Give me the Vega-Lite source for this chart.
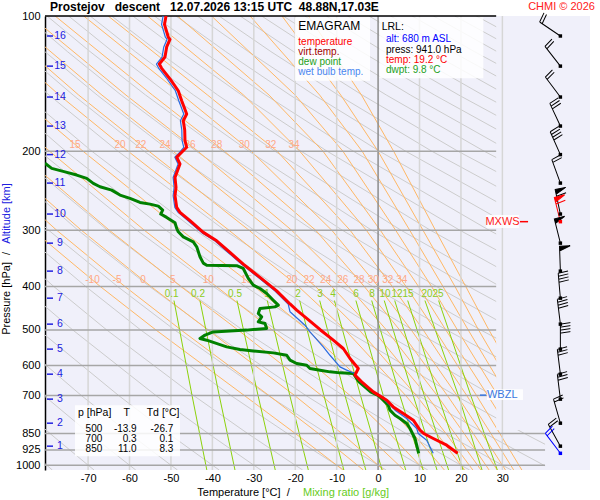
{
  "$schema": "https://vega.github.io/schema/vega-lite/v6.json",
  "width": 545,
  "height": 454,
  "autosize": "none",
  "padding": {"left": 45, "top": 16, "right": 10, "bottom": 30},
  "background": "white",
  "config": {"view": {"fill": "#f0f0fa", "stroke": null}, "font": "Liberation Sans"},
  "datasets": {
    "dry": [
      {"g":-80,"p":1025,"T":-78.63},{"g":-80,"p":1000,"T":-80},{"g":-80,"p":850,"T":-88.8},
      {"g":-70,"p":1025,"T":-68.56},{"g":-70,"p":1000,"T":-70},{"g":-70,"p":850,"T":-79.2},{"g":-70,"p":700,"T":-89.7},
      {"g":-60,"p":1025,"T":-58.49},{"g":-60,"p":1000,"T":-60},{"g":-60,"p":850,"T":-69.7},{"g":-60,"p":700,"T":-80.65},{"g":-60,"p":500,"T":-98.3},
      {"g":-50,"p":1025,"T":-48.42},{"g":-50,"p":1000,"T":-50},{"g":-50,"p":850,"T":-60.1},{"g":-50,"p":700,"T":-71.6},{"g":-50,"p":500,"T":-90.1},
      {"g":-40,"p":1025,"T":-38.35},{"g":-40,"p":1000,"T":-40},{"g":-40,"p":850,"T":-50.6},{"g":-40,"p":700,"T":-62.6},{"g":-40,"p":500,"T":-81.9},{"g":-40,"p":400,"T":-93.7},
      {"g":-30,"p":1025,"T":-28.28},{"g":-30,"p":1000,"T":-30},{"g":-30,"p":850,"T":-41.0},{"g":-30,"p":700,"T":-53.6},{"g":-30,"p":500,"T":-73.7},{"g":-30,"p":400,"T":-86.0},
      {"g":-20,"p":1025,"T":-18.21},{"g":-20,"p":1000,"T":-20},{"g":-20,"p":850,"T":-31.5},{"g":-20,"p":700,"T":-44.5},{"g":-20,"p":500,"T":-65.5},{"g":-20,"p":400,"T":-78.3},{"g":-20,"p":300,"T":-93.7},
      {"g":-10,"p":1025,"T":-8.14},{"g":-10,"p":1000,"T":-10},{"g":-10,"p":850,"T":-21.9},{"g":-10,"p":700,"T":-35.5},{"g":-10,"p":500,"T":-57.3},{"g":-10,"p":400,"T":-70.6},{"g":-10,"p":300,"T":-86.6},
      {"g":0,"p":1025,"T":1.93},{"g":0,"p":1000,"T":0},{"g":0,"p":850,"T":-12.4},{"g":0,"p":700,"T":-26.5},{"g":0,"p":500,"T":-49.1},{"g":0,"p":400,"T":-62.9},{"g":0,"p":300,"T":-79.5},{"g":0,"p":200,"T":-100.7},
      {"g":10,"p":1025,"T":12.0},{"g":10,"p":1000,"T":10},{"g":10,"p":850,"T":-2.8},{"g":10,"p":700,"T":-17.4},{"g":10,"p":500,"T":-40.9},{"g":10,"p":400,"T":-55.2},{"g":10,"p":300,"T":-72.4},{"g":10,"p":200,"T":-94.4},
      {"g":20,"p":1025,"T":22.08},{"g":20,"p":1000,"T":20},{"g":20,"p":850,"T":6.7},{"g":20,"p":700,"T":-8.4},{"g":20,"p":500,"T":-32.7},{"g":20,"p":400,"T":-47.5},{"g":20,"p":300,"T":-65.3},{"g":20,"p":200,"T":-88.1},
      {"g":30,"p":1025,"T":32.15},{"g":30,"p":1000,"T":30},{"g":30,"p":850,"T":16.25},{"g":30,"p":700,"T":0.63},{"g":30,"p":500,"T":-24.5},{"g":30,"p":400,"T":-39.8},{"g":30,"p":300,"T":-58.2},{"g":30,"p":200,"T":-81.75},{"g":30,"p":150,"T":-96.9},
      {"g":40,"p":1025,"T":42.22},{"g":40,"p":1000,"T":40},{"g":40,"p":850,"T":25.8},{"g":40,"p":700,"T":9.66},{"g":40,"p":500,"T":-16.3},{"g":40,"p":400,"T":-32.1},{"g":40,"p":300,"T":-51.15},{"g":40,"p":200,"T":-75.4},{"g":40,"p":150,"T":-91.0},
      {"g":50,"p":1000,"T":50},{"g":50,"p":850,"T":35.3},{"g":50,"p":700,"T":18.7},{"g":50,"p":500,"T":-8.06},{"g":50,"p":400,"T":-24.4},{"g":50,"p":300,"T":-44.05},{"g":50,"p":200,"T":-69.1},{"g":50,"p":150,"T":-85.2},
      {"g":60,"p":1000,"T":60},{"g":60,"p":850,"T":44.9},{"g":60,"p":700,"T":27.7},{"g":60,"p":500,"T":0.15},{"g":60,"p":400,"T":-16.7},{"g":60,"p":300,"T":-36.96},{"g":60,"p":200,"T":-62.8},{"g":60,"p":150,"T":-79.4},{"g":60,"p":120,"T":-91.4},
      {"g":70,"p":850,"T":54.4},{"g":70,"p":700,"T":36.75},{"g":70,"p":500,"T":8.35},{"g":70,"p":400,"T":-9.03},{"g":70,"p":300,"T":-29.9},{"g":70,"p":200,"T":-56.5},{"g":70,"p":150,"T":-73.6},{"g":70,"p":120,"T":-85.9},{"g":70,"p":100,"T":-95.4},
      {"g":80,"p":850,"T":64.0},{"g":80,"p":700,"T":45.8},{"g":80,"p":500,"T":16.55},{"g":80,"p":400,"T":-1.33},{"g":80,"p":300,"T":-22.8},{"g":80,"p":200,"T":-50.2},{"g":80,"p":150,"T":-67.8},{"g":80,"p":120,"T":-80.45},{"g":80,"p":100,"T":-90.2},
      {"g":90,"p":700,"T":54.8},{"g":90,"p":500,"T":24.76},{"g":90,"p":400,"T":6.36},{"g":90,"p":300,"T":-15.7},{"g":90,"p":200,"T":-43.9},{"g":90,"p":150,"T":-62.0},{"g":90,"p":120,"T":-74.99},{"g":90,"p":100,"T":-85.06},
      {"g":100,"p":700,"T":63.8},{"g":100,"p":500,"T":32.96},{"g":100,"p":400,"T":14.06},{"g":100,"p":300,"T":-8.6},{"g":100,"p":200,"T":-37.55},{"g":100,"p":150,"T":-56.1},{"g":100,"p":120,"T":-69.53},{"g":100,"p":100,"T":-79.9},
      {"g":110,"p":500,"T":41.2},{"g":110,"p":400,"T":21.8},{"g":110,"p":300,"T":-1.5},{"g":110,"p":200,"T":-31.2},{"g":110,"p":150,"T":-50.3},{"g":110,"p":120,"T":-64.08},{"g":110,"p":100,"T":-74.7},
      {"g":120,"p":500,"T":49.4},{"g":120,"p":400,"T":29.45},{"g":120,"p":300,"T":5.57},{"g":120,"p":200,"T":-24.9},{"g":120,"p":150,"T":-44.5},{"g":120,"p":120,"T":-58.62},{"g":120,"p":100,"T":-69.5},
      {"g":130,"p":500,"T":57.6},{"g":130,"p":400,"T":37.15},{"g":130,"p":300,"T":12.66},{"g":130,"p":200,"T":-18.6},{"g":130,"p":150,"T":-38.7},{"g":130,"p":120,"T":-53.16},{"g":130,"p":100,"T":-64.3},
      {"g":140,"p":400,"T":44.85},{"g":140,"p":300,"T":19.75},{"g":140,"p":200,"T":-12.3},{"g":140,"p":150,"T":-32.9},{"g":140,"p":120,"T":-47.71},{"g":140,"p":100,"T":-59.2},
      {"g":150,"p":400,"T":52.5},{"g":150,"p":300,"T":26.84},{"g":150,"p":200,"T":-5.98},{"g":150,"p":150,"T":-27.1},{"g":150,"p":120,"T":-42.25},{"g":150,"p":100,"T":-54.0},
      {"g":160,"p":400,"T":60.2},{"g":160,"p":300,"T":33.9},{"g":160,"p":200,"T":0.33},{"g":160,"p":150,"T":-21.25},{"g":160,"p":120,"T":-36.79},{"g":160,"p":100,"T":-48.8},
      {"g":170,"p":300,"T":41.0},{"g":170,"p":200,"T":6.65},{"g":170,"p":150,"T":-15.4},{"g":170,"p":120,"T":-31.33},{"g":170,"p":100,"T":-43.6},
      {"g":180,"p":300,"T":48.1},{"g":180,"p":200,"T":12.96},{"g":180,"p":150,"T":-9.6},{"g":180,"p":120,"T":-25.88},{"g":180,"p":100,"T":-38.4},
      {"g":190,"p":300,"T":55.2},{"g":190,"p":200,"T":19.27},{"g":190,"p":150,"T":-3.8},{"g":190,"p":120,"T":-20.42},{"g":190,"p":100,"T":-33.3},
      {"g":200,"p":300,"T":62.3},{"g":200,"p":200,"T":25.6},{"g":200,"p":150,"T":2.02},{"g":200,"p":120,"T":-14.96},{"g":200,"p":100,"T":-28.1},
      {"g":210,"p":200,"T":31.9},{"g":210,"p":150,"T":7.83},{"g":210,"p":120,"T":-9.51},{"g":210,"p":100,"T":-22.9},
      {"g":220,"p":200,"T":38.2},{"g":220,"p":150,"T":13.65},{"g":220,"p":120,"T":-4.05},{"g":220,"p":100,"T":-17.7},
      {"g":230,"p":200,"T":44.5},{"g":230,"p":150,"T":19.5},{"g":230,"p":120,"T":1.41},{"g":230,"p":100,"T":-12.5},
      {"g":240,"p":200,"T":50.8},{"g":240,"p":150,"T":25.3},{"g":240,"p":120,"T":6.86},{"g":240,"p":100,"T":-7.4},
      {"g":250,"p":200,"T":57.2},{"g":250,"p":150,"T":31.1},{"g":250,"p":120,"T":12.32},{"g":250,"p":100,"T":-2.2},
      {"g":260,"p":150,"T":36.9},{"g":260,"p":120,"T":17.78},{"g":260,"p":100,"T":3.0},
      {"g":270,"p":150,"T":42.7},{"g":270,"p":120,"T":23.23},{"g":270,"p":100,"T":8.2},
      {"g":280,"p":150,"T":48.55},{"g":280,"p":120,"T":28.69},{"g":280,"p":100,"T":13.35},
      {"g":290,"p":150,"T":54.4},{"g":290,"p":120,"T":34.15},{"g":290,"p":100,"T":18.5},
      {"g":300,"p":150,"T":60.2},{"g":300,"p":120,"T":39.6},{"g":300,"p":100,"T":23.7},
      {"g":310,"p":120,"T":45.06},{"g":310,"p":100,"T":28.9}
    ],
    "moist": [
      {"g":-10,"p":1025,"T":-8.48},{"g":-10,"p":1000,"T":-10},{"g":-10,"p":850,"T":-19.98},{"g":-10,"p":700,"T":-32.26},{"g":-10,"p":500,"T":-53.62},{"g":-10,"p":400,"T":-67.08},{"g":-10,"p":300,"T":-83.3},
      {"g":-5,"p":1025,"T":-3.57},{"g":-5,"p":1000,"T":-5},{"g":-5,"p":850,"T":-14.4},{"g":-5,"p":700,"T":-26.31},{"g":-5,"p":500,"T":-47.57},{"g":-5,"p":400,"T":-61.13},{"g":-5,"p":300,"T":-77.56},{"g":-5,"p":200,"T":-98.7},
      {"g":0,"p":1025,"T":1.33},{"g":0,"p":1000,"T":0},{"g":0,"p":850,"T":-8.78},{"g":0,"p":700,"T":-20.12},{"g":0,"p":500,"T":-41.07},{"g":0,"p":400,"T":-54.83},{"g":0,"p":300,"T":-71.6},{"g":0,"p":200,"T":-93.4},
      {"g":5,"p":1025,"T":6.23},{"g":5,"p":1000,"T":5},{"g":5,"p":850,"T":-3.08},{"g":5,"p":700,"T":-13.63},{"g":5,"p":500,"T":-33.82},{"g":5,"p":400,"T":-47.64},{"g":5,"p":300,"T":-64.85},{"g":5,"p":200,"T":-87.2},
      {"g":10,"p":1025,"T":11.1},{"g":10,"p":1000,"T":10},{"g":10,"p":850,"T":2.73},{"g":10,"p":700,"T":-6.75},{"g":10,"p":500,"T":-25.55},{"g":10,"p":400,"T":-39.06},{"g":10,"p":300,"T":-56.4},{"g":10,"p":200,"T":-79.3},{"g":10,"p":150,"T":-94.6},
      {"g":15,"p":1025,"T":16.0},{"g":15,"p":1000,"T":15},{"g":15,"p":850,"T":8.4},{"g":15,"p":700,"T":-0.14},{"g":15,"p":500,"T":-17.09},{"g":15,"p":400,"T":-29.9},{"g":15,"p":300,"T":-47.46},{"g":15,"p":200,"T":-71.23},{"g":15,"p":150,"T":-87.15},
      {"g":20,"p":1025,"T":20.89},{"g":20,"p":1000,"T":20},{"g":20,"p":850,"T":14.15},{"g":20,"p":700,"T":6.68},{"g":20,"p":500,"T":-7.94},{"g":20,"p":400,"T":-19.22},{"g":20,"p":300,"T":-35.97},{"g":20,"p":200,"T":-60.34},{"g":20,"p":150,"T":-76.95},{"g":20,"p":100,"T":-98.4},
      {"g":22,"p":1025,"T":22.86},{"g":22,"p":1000,"T":22},{"g":22,"p":850,"T":16.37},{"g":22,"p":700,"T":9.25},{"g":22,"p":500,"T":-4.54},{"g":22,"p":400,"T":-15.14},{"g":22,"p":300,"T":-31.12},{"g":22,"p":200,"T":-55.33},{"g":22,"p":150,"T":-72.25},{"g":22,"p":100,"T":-94.2},
      {"g":24,"p":1025,"T":24.83},{"g":24,"p":1000,"T":24},{"g":24,"p":850,"T":18.57},{"g":24,"p":700,"T":11.75},{"g":24,"p":500,"T":-1.27},{"g":24,"p":400,"T":-11.21},{"g":24,"p":300,"T":-25.96},{"g":24,"p":200,"T":-49.49},{"g":24,"p":150,"T":-66.65},{"g":24,"p":100,"T":-89.2},
      {"g":26,"p":1025,"T":26.79},{"g":26,"p":1000,"T":26},{"g":26,"p":850,"T":20.77},{"g":26,"p":700,"T":14.28},{"g":26,"p":500,"T":2.02},{"g":26,"p":400,"T":-7.19},{"g":26,"p":300,"T":-20.85},{"g":26,"p":200,"T":-43.5},{"g":26,"p":150,"T":-60.85},{"g":26,"p":100,"T":-83.95},
      {"g":28,"p":1025,"T":28.76},{"g":28,"p":1000,"T":28},{"g":28,"p":850,"T":22.98},{"g":28,"p":700,"T":16.74},{"g":28,"p":500,"T":5.2},{"g":28,"p":400,"T":-3.35},{"g":28,"p":300,"T":-15.05},{"g":28,"p":200,"T":-37.1},{"g":28,"p":150,"T":-54.45},{"g":28,"p":100,"T":-77.95},
      {"g":30,"p":1025,"T":30.75},{"g":30,"p":1000,"T":30},{"g":30,"p":850,"T":25.08},{"g":30,"p":700,"T":19.05},{"g":30,"p":500,"T":8.01},{"g":30,"p":400,"T":0.01},{"g":30,"p":300,"T":-11.16},{"g":30,"p":200,"T":-30.62},{"g":30,"p":150,"T":-47.25},{"g":30,"p":100,"T":-71.05},
      {"g":32,"p":1025,"T":32.73},{"g":32,"p":1000,"T":32},{"g":32,"p":850,"T":27.23},{"g":32,"p":700,"T":21.41},{"g":32,"p":500,"T":10.9},{"g":32,"p":400,"T":3.42},{"g":32,"p":300,"T":-6.75},{"g":32,"p":200,"T":-24.38},{"g":32,"p":150,"T":-41.15},{"g":32,"p":100,"T":-65.15},
      {"g":34,"p":1025,"T":34.7},{"g":34,"p":1000,"T":34},{"g":34,"p":850,"T":29.38},{"g":34,"p":700,"T":23.77},{"g":34,"p":500,"T":13.76},{"g":34,"p":400,"T":6.74},{"g":34,"p":300,"T":-2.82},{"g":34,"p":200,"T":-18.91},{"g":34,"p":150,"T":-32.45},{"g":34,"p":100,"T":-55.65},
      {"g":36,"p":835,"T":31.72},{"g":36,"p":700,"T":26.5},{"g":36,"p":500,"T":16.35},{"g":36,"p":400,"T":9.75},{"g":36,"p":300,"T":0.55},{"g":36,"p":200,"T":-13.3},{"g":36,"p":150,"T":-26.3},{"g":36,"p":100,"T":-48.4},
      {"g":38,"p":835,"T":34.03},{"g":38,"p":700,"T":28.9},{"g":38,"p":500,"T":19.15},{"g":38,"p":400,"T":12.9},{"g":38,"p":300,"T":4.25},{"g":38,"p":200,"T":-8.5},{"g":38,"p":150,"T":-20.0},{"g":38,"p":100,"T":-40.2},
      {"g":40,"p":835,"T":36.25},{"g":40,"p":700,"T":31.25},{"g":40,"p":500,"T":21.75},{"g":40,"p":400,"T":15.65},{"g":40,"p":300,"T":7.65},{"g":40,"p":200,"T":-3.85},{"g":40,"p":150,"T":-14.1},{"g":40,"p":100,"T":-30.9},
      {"g":42,"p":835,"T":38.4},{"g":42,"p":700,"T":33.5},{"g":42,"p":500,"T":24.25},{"g":42,"p":400,"T":18.55},{"g":42,"p":300,"T":10.85},{"g":42,"p":200,"T":0.0},{"g":42,"p":150,"T":-9.0},{"g":42,"p":100,"T":-23.2},
      {"g":44,"p":835,"T":40.7},{"g":44,"p":700,"T":35.8},{"g":44,"p":500,"T":26.75},{"g":44,"p":400,"T":21.15},{"g":44,"p":300,"T":13.85},{"g":44,"p":200,"T":3.75},{"g":44,"p":150,"T":-4.0},{"g":44,"p":100,"T":-16.8}
    ],
    "mix": [
      {"g":"0.1","p":430,"T":-49.27},{"g":"0.1","p":700,"T":-44.9},{"g":"0.1","p":1000,"T":-41.57},{"g":"0.1","p":1025,"T":-41.34},
      {"g":"0.2","p":430,"T":-43.0},{"g":"0.2","p":700,"T":-38.34},{"g":"0.2","p":1000,"T":-34.79},{"g":"0.2","p":1025,"T":-34.54},
      {"g":"0.5","p":430,"T":-34.06},{"g":"0.5","p":700,"T":-28.97},{"g":"0.5","p":1000,"T":-25.09},{"g":"0.5","p":1025,"T":-24.82},
      {"g":"1","p":430,"T":-26.75},{"g":"1","p":700,"T":-21.3},{"g":"1","p":1000,"T":-17.13},{"g":"1","p":1025,"T":-16.84},
      {"g":"2","p":430,"T":-18.93},{"g":"2","p":700,"T":-13.07},{"g":"2","p":1000,"T":-8.58},{"g":"2","p":1025,"T":-8.27},
      {"g":"3","p":430,"T":-14.09},{"g":"3","p":700,"T":-7.975},{"g":"3","p":1000,"T":-3.29},{"g":"3","p":1025,"T":-2.97},
      {"g":"4","p":430,"T":-10.54},{"g":"4","p":700,"T":-4.228},{"g":"4","p":1000,"T":0.614},{"g":"4","p":1025,"T":0.95},
      {"g":"6","p":430,"T":-5.355},{"g":"6","p":700,"T":1.247},{"g":"6","p":1000,"T":6.32},{"g":"6","p":1025,"T":6.67},
      {"g":"8","p":430,"T":-1.544},{"g":"8","p":700,"T":5.273},{"g":"8","p":1000,"T":10.51},{"g":"8","p":1025,"T":10.87},
      {"g":"10","p":430,"T":1.487},{"g":"10","p":700,"T":8.478},{"g":"10","p":1000,"T":13.85},{"g":"10","p":1025,"T":14.22},
      {"g":"12","p":430,"T":4.011},{"g":"12","p":700,"T":11.15},{"g":"12","p":1000,"T":16.64},{"g":"12","p":1025,"T":17.02},
      {"g":"15","p":430,"T":7.148},{"g":"15","p":700,"T":14.48},{"g":"15","p":1000,"T":20.12},{"g":"15","p":1025,"T":20.51},
      {"g":"20","p":430,"T":11.31},{"g":"20","p":700,"T":19.39},{"g":"20","p":1000,"T":24.72},{"g":"20","p":1025,"T":25.09},
      {"g":"25","p":430,"T":14.61},{"g":"25","p":700,"T":22.38},{"g":"25","p":1000,"T":28.37},{"g":"25","p":1025,"T":28.78}
    ],
    "mask": [
      {"T":28.5,"T2":51.15,"p":100,"p2":835},
      {"T":40.3,"T2":51.15,"p":835,"p2":1025}
    ],
    "vgrid": [
      {"T":-70,"p":100,"p2":1025,"c":"#d6d6d6"},{"T":-60,"p":100,"p2":1025,"c":"#d6d6d6"},{"T":-50,"p":100,"p2":1025,"c":"#d6d6d6"},
      {"T":-40,"p":100,"p2":1025,"c":"#d6d6d6"},{"T":-30,"p":100,"p2":1025,"c":"#d6d6d6"},{"T":-20,"p":100,"p2":1025,"c":"#d6d6d6"},
      {"T":-10,"p":100,"p2":1025,"c":"#d6d6d6"},{"T":10,"p":100,"p2":1025,"c":"#d6d6d6"},{"T":20,"p":100,"p2":1025,"c":"#d6d6d6"},
      {"T":30,"p":100,"p2":1025,"c":"#d6d6d6"},{"T":0,"p":100,"p2":1025,"c":"#8c8c8c"}
    ],
    "hgrid": [
      {"p":200,"T":-80.4,"T2":28.5,"c":"#a6a6a6"},{"p":300,"T":-80.4,"T2":28.5,"c":"#a6a6a6"},{"p":400,"T":-80.4,"T2":28.5,"c":"#a6a6a6"},
      {"p":500,"T":-80.4,"T2":28.5,"c":"#a6a6a6"},{"p":600,"T":-80.4,"T2":28.5,"c":"#a6a6a6"},{"p":700,"T":-80.4,"T2":28.5,"c":"#a6a6a6"},
      {"p":850,"T":-80.4,"T2":40.3,"c":"#a6a6a6"},{"p":925,"T":-80.4,"T2":40.3,"c":"#a6a6a6"},{"p":1000,"T":-80.4,"T2":40.3,"c":"#a6a6a6"},
      {"p":100,"T":-80.4,"T2":28.5,"c":"#000000"}
    ],
    "moistLabels": [
      {"txt":"15","p":193.8,"T":-73.16},{"txt":"20","p":193.8,"T":-62.31},{"txt":"22","p":193.8,"T":-57.3},{"txt":"24","p":193.8,"T":-51.44},
      {"txt":"26","p":193.8,"T":-45.4},{"txt":"28","p":193.8,"T":-38.96},{"txt":"30","p":193.8,"T":-32.3},{"txt":"32","p":193.8,"T":-25.92},{"txt":"34","p":193.8,"T":-20.3},
      {"txt":"-10","p":387.2,"T":-68.94},{"txt":"-5","p":387.2,"T":-63.02},{"txt":"0","p":387.2,"T":-56.75},{"txt":"5","p":387.2,"T":-49.58},
      {"txt":"10","p":387.2,"T":-40.98},{"txt":"15","p":387.2,"T":-31.72},{"txt":"20","p":387.2,"T":-20.85},{"txt":"22","p":387.2,"T":-16.68},
      {"txt":"24","p":387.2,"T":-12.65},{"txt":"26","p":387.2,"T":-8.54},{"txt":"28","p":387.2,"T":-4.61},{"txt":"30","p":387.2,"T":-1.16},
      {"txt":"32","p":387.2,"T":2.32},{"txt":"34","p":387.2,"T":5.7}
    ],
    "mixLabels": [
      {"txt":"0.1","p":416.1,"T":-49.82},{"txt":"0.2","p":416.1,"T":-43.47},{"txt":"0.5","p":416.1,"T":-34.54},{"txt":"1","p":416.1,"T":-26.82},
      {"txt":"2","p":416.1,"T":-19.33},{"txt":"3","p":416.1,"T":-14.02},{"txt":"4","p":416.1,"T":-10.89},{"txt":"6","p":416.1,"T":-5.33},
      {"txt":"8","p":416.1,"T":-1.47},{"txt":"10","p":416.1,"T":1.66},{"txt":"12","p":416.1,"T":4.56},{"txt":"15","p":416.1,"T":7.22},
      {"txt":"20","p":416.1,"T":11.8},{"txt":"25","p":416.1,"T":14.46}
    ],
    "boxes": [
      {"T":-20.06,"T2":-1.95,"p":100.7,"p2":139.3},
      {"T":0.29,"T2":25.4,"p":100.7,"p2":137.6},
      {"T":-73.16,"T2":-47.82,"p":735.3,"p2":954.9},
      {"T":26.1,"T2":34.0,"p":277.5,"p2":296.6},
      {"T":26.28,"T2":34.97,"p":677.3,"p2":716.3}
    ],
    "ticks": [
      {"T":34.25,"T2":36.2,"p":287,"c":"#ff0000"},
      {"T":24.6,"T2":26.05,"p":698.4,"c":"#3a78e0"},
      {"T":-79.92,"T2":-78.47,"p":110.8,"c":"#2020e0"},{"T":-79.92,"T2":-78.47,"p":129.3,"c":"#2020e0"},
      {"T":-79.92,"T2":-78.47,"p":151.5,"c":"#2020e0"},{"T":-79.92,"T2":-78.47,"p":175.8,"c":"#2020e0"},
      {"T":-79.92,"T2":-78.47,"p":203.5,"c":"#2020e0"},{"T":-79.92,"T2":-78.47,"p":235.5,"c":"#2020e0"},
      {"T":-79.92,"T2":-78.47,"p":276,"c":"#2020e0"},{"T":-79.92,"T2":-78.47,"p":320.4,"c":"#2020e0"},
      {"T":-79.92,"T2":-78.47,"p":369.8,"c":"#2020e0"},{"T":-79.92,"T2":-78.47,"p":424.8,"c":"#2020e0"},
      {"T":-79.92,"T2":-78.47,"p":485.3,"c":"#2020e0"},{"T":-79.92,"T2":-78.47,"p":551.6,"c":"#2020e0"},
      {"T":-79.92,"T2":-78.47,"p":627.2,"c":"#2020e0"},{"T":-79.92,"T2":-78.47,"p":712.8,"c":"#2020e0"},
      {"T":-79.92,"T2":-78.47,"p":806.3,"c":"#2020e0"},{"T":-79.92,"T2":-78.47,"p":907.1,"c":"#2020e0"}
    ],
    "barbs": [
      {"T":44.0,"p":110.8,"ang":304,"sh":"b2","col":"#000000"},
      {"T":44.0,"p":129.3,"ang":322,"sh":"b2","col":"#000000"},
      {"T":44.0,"p":151.5,"ang":323,"sh":"b2","col":"#000000"},
      {"T":44.0,"p":175.8,"ang":335,"sh":"b3","col":"#000000"},
      {"T":44.0,"p":203.5,"ang":336,"sh":"b4","col":"#000000"},
      {"T":44.0,"p":235.5,"ang":340,"sh":"b2","col":"#000000"},
      {"T":44.0,"p":276,"ang":348,"sh":"f1","col":"#000000"},
      {"T":44.0,"p":287,"ang":346,"sh":"f1","col":"#ff0000"},
      {"T":44.0,"p":320.4,"ang":346,"sh":"f","col":"#000000"},
      {"T":44.0,"p":369.8,"ang":358,"sh":"f","col":"#000000"},
      {"T":44.0,"p":424.8,"ang":355,"sh":"b4","col":"#000000"},
      {"T":44.0,"p":485.3,"ang":353,"sh":"b4","col":"#000000"},
      {"T":44.0,"p":551.6,"ang":0,"sh":"b4","col":"#000000"},
      {"T":44.0,"p":627.2,"ang":353,"sh":"b3","col":"#000000"},
      {"T":44.0,"p":712.8,"ang":353,"sh":"b3","col":"#000000"},
      {"T":44.0,"p":806.3,"ang":344,"sh":"b2","col":"#000000"},
      {"T":44.0,"p":907.1,"ang":331,"sh":"b2","col":"#000000"},
      {"T":44.0,"p":941,"ang":323,"sh":"b2","col":"#0000ff"}
    ],
    "dwpt": [
      {"p":212.8,"T":-80.4},{"p":218.4,"T":-78.78},{"p":222.3,"T":-75.57},{"p":226.0,"T":-72.75},{"p":229.9,"T":-70.34},
      {"p":235.9,"T":-68.74},{"p":240.0,"T":-67.13},{"p":244.1,"T":-64.3},{"p":250.4,"T":-62.3},{"p":254.7,"T":-59.88},
      {"p":260.0,"T":-57.47},{"p":262.3,"T":-55.06},{"p":265.0,"T":-53.05},{"p":270.4,"T":-51.99},{"p":276.0,"T":-52.47},
      {"p":280.8,"T":-51.03},{"p":288.6,"T":-49.02},{"p":297.1,"T":-48.61},{"p":302.3,"T":-48.23},{"p":310.2,"T":-47.02},
      {"p":318.2,"T":-44.61},{"p":326.5,"T":-43.78},{"p":343.6,"T":-42.99},{"p":355.0,"T":-42.19},{"p":358.8,"T":-41.37},
      {"p":359.6,"T":-34.13},{"p":364.8,"T":-32.54},{"p":383.9,"T":-31.33},{"p":397.3,"T":-30.12},{"p":404.2,"T":-28.51},
      {"p":414.7,"T":-26.89},{"p":429.2,"T":-25.3},{"p":440.3,"T":-24.09},{"p":444.2,"T":-24.89},{"p":447.7,"T":-28.51},
      {"p":459.4,"T":-28.92},{"p":467.4,"T":-28.1},{"p":479.6,"T":-28.92},{"p":483.5,"T":-27.3},{"p":496.1,"T":-26.89},
      {"p":500.4,"T":-31.72},{"p":505.0,"T":-39.78},{"p":513.4,"T":-41.78},{"p":522.2,"T":-42.99},{"p":526.9,"T":-41.37},
      {"p":545.3,"T":-36.54},{"p":552.6,"T":-33.33},{"p":556.6,"T":-30.12},{"p":562.3,"T":-25.3},{"p":569.2,"T":-22.06},
      {"p":583.8,"T":-21.26},{"p":593.8,"T":-19.65},{"p":599.0,"T":-17.23},{"p":609.1,"T":-16.44},{"p":614.5,"T":-14.02},
      {"p":619.8,"T":-11.61},{"p":623.0,"T":-9.2},{"p":624.9,"T":-5.99},{"p":652.4,"T":-4.6},{"p":686.7,"T":-1.8},
      {"p":700,"T":0.1},{"p":716.6,"T":1.26},{"p":735.2,"T":2.46},{"p":754.3,"T":2.87},{"p":774.0,"T":4.08},
      {"p":787.1,"T":5.29},{"p":807.5,"T":6.9},{"p":828.6,"T":7.7},{"p":850,"T":8.3},{"p":872.1,"T":8.91},
      {"p":902.6,"T":9.32},{"p":941,"T":9.8}
    ],
    "wb": [
      {"p":100,"T":-51.89},{"p":104.4,"T":-52.26},{"p":111.5,"T":-51.34},{"p":112.7,"T":-50.93},{"p":117.2,"T":-51.73},
      {"p":123.4,"T":-52.14},{"p":127.9,"T":-53.51},{"p":130.6,"T":-52.98},{"p":138.1,"T":-50.93},{"p":146.7,"T":-48.93},
      {"p":154.4,"T":-48.11},{"p":165.3,"T":-46.9},{"p":171.1,"T":-47.72},{"p":179.4,"T":-47.38},{"p":189.5,"T":-47.31},
      {"p":196.0,"T":-46.9},{"p":202.9,"T":-48.27},{"p":206.3,"T":-49.06},{"p":213.5,"T":-48.27},{"p":228.7,"T":-49.47},
      {"p":240.8,"T":-49.23},{"p":251.3,"T":-49.47},{"p":266.7,"T":-49.06},{"p":273.6,"T":-48.27},{"p":285.6,"T":-45.85},
      {"p":303.2,"T":-42.64},{"p":316.6,"T":-39.41},{"p":336.0,"T":-36.2},{"p":356.8,"T":-32.99},{"p":381.9,"T":-28.96},
      {"p":409.2,"T":-24.93},{"p":437.6,"T":-21.71},{"p":455.5,"T":-21.26},{"p":488.0,"T":-17.64},{"p":505.0,"T":-16.43},
      {"p":545.3,"T":-13.23},{"p":569.2,"T":-11.61},{"p":604.1,"T":-9.2},{"p":614.4,"T":-7.58},{"p":624.9,"T":-5.58},
      {"p":630.4,"T":-5.7},{"p":652.4,"T":-4.1},{"p":686.7,"T":-1.3},{"p":700,"T":0.2},{"p":710.4,"T":1.26},
      {"p":735.2,"T":2.87},{"p":754.3,"T":4.08},{"p":787.1,"T":6.9},{"p":828.6,"T":9.32},{"p":850,"T":9.7},
      {"p":879.8,"T":11.73},{"p":941,"T":13.3}
    ],
    "temp": [
      {"p":100,"T":-51.19},{"p":104.4,"T":-51.56},{"p":111.5,"T":-50.64},{"p":112.7,"T":-50.23},{"p":117.2,"T":-51.03},
      {"p":123.4,"T":-51.44},{"p":127.9,"T":-52.81},{"p":130.6,"T":-52.28},{"p":138.1,"T":-50.23},{"p":146.7,"T":-48.23},
      {"p":154.4,"T":-47.41},{"p":165.3,"T":-46.2},{"p":171.1,"T":-47.02},{"p":179.4,"T":-46.68},{"p":189.5,"T":-46.61},
      {"p":196.0,"T":-46.2},{"p":202.9,"T":-47.82},{"p":206.3,"T":-48.61},{"p":213.5,"T":-47.82},{"p":228.7,"T":-49.02},
      {"p":240.8,"T":-48.78},{"p":251.3,"T":-49.02},{"p":266.7,"T":-48.61},{"p":273.6,"T":-47.82},{"p":285.6,"T":-45.4},
      {"p":303.2,"T":-42.19},{"p":316.6,"T":-38.96},{"p":336.0,"T":-35.75},{"p":356.8,"T":-32.54},{"p":381.9,"T":-28.51},
      {"p":409.2,"T":-24.48},{"p":437.6,"T":-21.26},{"p":451.7,"T":-19.65},{"p":471.3,"T":-17.23},{"p":500,"T":-13.9},
      {"p":526.9,"T":-10.81},{"p":549.8,"T":-8.4},{"p":578.7,"T":-6.78},{"p":609.1,"T":-4.78},{"p":630.4,"T":-5.58},
      {"p":652.4,"T":-3.96},{"p":686.7,"T":-1.16},{"p":700,"T":0.3},{"p":716.6,"T":2.08},{"p":741.7,"T":3.67},
      {"p":767.2,"T":6.08},{"p":794.0,"T":8.5},{"p":835.8,"T":10.11},{"p":850,"T":11.0},{"p":872.1,"T":13.32},
      {"p":902.6,"T":16.56},{"p":941,"T":19.2}
    ],
    "textLeft": [
      {"T":-19.26,"p":105.3,"txt":"EMAGRAM","col":"#000000","fs":12},
      {"T":-19.26,"p":114.4,"txt":"temperature","col":"#ff0000","fs":10},
      {"T":-19.26,"p":120.4,"txt":"virt.temp.","col":"#a00000","fs":10},
      {"T":-19.26,"p":126.4,"txt":"dew point","col":"#22a022","fs":10},
      {"T":-19.26,"p":133.1,"txt":"wet bulb temp.","col":"#4a86f0","fs":10},
      {"T":0.87,"p":106.0,"txt":"LRL:","col":"#000000","fs":10.5},
      {"T":1.91,"p":112.7,"txt":"alt: 680 m ASL","col":"#0000ff","fs":10},
      {"T":1.91,"p":119.1,"txt":"press: 941.0 hPa","col":"#000000","fs":10},
      {"T":1.91,"p":125.3,"txt":"temp: 19.2 °C","col":"#ff0000","fs":10},
      {"T":1.91,"p":131.9,"txt":"dwpt: 9.8 °C","col":"#22a022","fs":10},
      {"T":-72.43,"p":767.2,"txt":"p [hPa]","col":"#000000","fs":10.5},
      {"T":-55.85,"p":767.2,"txt":"Td [°C]","col":"#000000","fs":10.5},
      {"T":26.28,"p":698.4,"txt":"WBZL","col":"#3a78e0","fs":11},
      {"T":-43.64,"p":1156,"txt":"Temperature [°C]","col":"#000000","fs":11},
      {"T":-18.13,"p":1156,"txt":"Mixing ratio [g/kg]","col":"#66cc22","fs":11}
    ],
    "textCenter": [
      {"T":-76.78,"p":110.8,"txt":"16","col":"#2020e0","fs":10.5},{"T":-76.78,"p":129.3,"txt":"15","col":"#2020e0","fs":10.5},
      {"T":-76.78,"p":151.5,"txt":"14","col":"#2020e0","fs":10.5},{"T":-76.78,"p":175.8,"txt":"13","col":"#2020e0","fs":10.5},
      {"T":-76.78,"p":203.5,"txt":"12","col":"#2020e0","fs":10.5},{"T":-76.78,"p":235.5,"txt":"11","col":"#2020e0","fs":10.5},
      {"T":-76.78,"p":276,"txt":"10","col":"#2020e0","fs":10.5},{"T":-76.78,"p":320.4,"txt":"9","col":"#2020e0","fs":10.5},
      {"T":-76.78,"p":369.8,"txt":"8","col":"#2020e0","fs":10.5},{"T":-76.78,"p":424.8,"txt":"7","col":"#2020e0","fs":10.5},
      {"T":-76.78,"p":485.3,"txt":"6","col":"#2020e0","fs":10.5},{"T":-76.78,"p":551.6,"txt":"5","col":"#2020e0","fs":10.5},
      {"T":-76.78,"p":627.2,"txt":"4","col":"#2020e0","fs":10.5},{"T":-76.78,"p":712.8,"txt":"3","col":"#2020e0","fs":10.5},
      {"T":-76.78,"p":806.3,"txt":"2","col":"#2020e0","fs":10.5},{"T":-76.78,"p":907.1,"txt":"1","col":"#2020e0","fs":10.5},
      {"T":-60.68,"p":767.2,"txt":"T","col":"#000000","fs":10.5},
      {"T":-21.67,"p":1156,"txt":"/","col":"#000000","fs":11},
      {"T":30.03,"p":287,"txt":"MXWS","col":"#ff2020","fs":11}
    ],
    "textRight": [
      {"T":-66.57,"p":828.6,"txt":"500","col":"#000000","fs":10},{"T":-58.27,"p":828.6,"txt":"-13.9","col":"#000000","fs":10},{"T":-49.43,"p":828.6,"txt":"-26.7","col":"#000000","fs":10},
      {"T":-66.57,"p":874.0,"txt":"700","col":"#000000","fs":10},{"T":-58.27,"p":874.0,"txt":"0.3","col":"#000000","fs":10},{"T":-49.43,"p":874.0,"txt":"0.1","col":"#000000","fs":10},
      {"T":-66.57,"p":919.9,"txt":"850","col":"#000000","fs":10},{"T":-58.27,"p":919.9,"txt":"11.0","col":"#000000","fs":10},{"T":-49.43,"p":919.9,"txt":"8.3","col":"#000000","fs":10},
      {"T":52.35,"p":95.7,"txt":"CHMI © 2026","col":"#ff2020","fs":11}
    ],
    "textRot": [
      {"T":-89.5,"p":425.3,"txt":"Pressure [hPa]","col":"#000000"},
      {"T":-89.5,"p":337.7,"txt":"/","col":"#000000"},
      {"T":-89.5,"p":275.1,"txt":"Altitude [km]","col":"#2020e0"}
    ],
    "title": [
      {"T":-79.19,"p":95.7,"txt":"Prostejov\u00a0\u00a0\u00a0descent\u00a0\u00a0\u00a012.07.2026 13:15 UTC\u00a0\u00a048.88N,17.03E"}
    ]
  },
  "encoding": {
    "x": {
      "field": "T", "type": "quantitative",
      "scale": {"domain": [-80.4, 51.15], "nice": false, "zero": false},
      "axis": {"values": [-70,-60,-50,-40,-30,-20,-10,0,10,20,30], "title": null, "grid": false, "domain": false, "ticks": false,
               "labelPadding": 2, "labelFontSize": 11, "labelColor": "#000000", "labelFlush": false, "labelOverlap": false,
               "labelExpr": "'' + datum.value"}
    },
    "y": {
      "field": "p", "type": "quantitative",
      "scale": {"type": "log", "domain": [100, 1025], "reverse": true, "nice": false},
      "axis": {"values": [100,200,300,400,500,600,700,850,925,1000], "title": null, "grid": false, "domain": true,
               "domainColor": "#000000", "domainWidth": 1.5, "ticks": false, "labelPadding": 5, "labelFontSize": 11,
               "labelColor": "#000000", "labelFlush": false, "labelOverlap": false, "labelExpr": "'' + datum.value"}
    }
  },
  "layer": [
    {"data": {"name": "dry"}, "mark": {"type": "line", "clip": true, "strokeWidth": 1, "color": "#cccccc"},
     "encoding": {"detail": {"field": "g", "type": "nominal"}, "order": {"field": "p", "type": "quantitative"}}},
    {"data": {"name": "moist"}, "mark": {"type": "line", "clip": true, "strokeWidth": 1, "color": "#ffb866"},
     "encoding": {"detail": {"field": "g", "type": "nominal"}, "order": {"field": "p", "type": "quantitative"}}},
    {"data": {"name": "mix"}, "mark": {"type": "line", "clip": true, "strokeWidth": 1, "color": "#8cd20a"},
     "encoding": {"detail": {"field": "g", "type": "nominal"}, "order": {"field": "p", "type": "quantitative"}}},
    {"data": {"name": "mask"}, "mark": {"type": "rect", "color": "#f0f0fa"},
     "encoding": {"x2": {"field": "T2"}, "y2": {"field": "p2"}}},
    {"data": {"name": "vgrid"}, "mark": {"type": "rule", "strokeWidth": 1.5},
     "encoding": {"y2": {"field": "p2"}, "color": {"field": "c", "type": "nominal", "scale": null}}},
    {"data": {"name": "hgrid"}, "mark": {"type": "rule", "strokeWidth": 1.5},
     "encoding": {"x2": {"field": "T2"}, "color": {"field": "c", "type": "nominal", "scale": null}}},
    {"data": {"name": "moistLabels"}, "mark": {"type": "text", "fontSize": 10, "color": "#ffa888", "align": "center", "baseline": "middle"},
     "encoding": {"text": {"field": "txt"}}},
    {"data": {"name": "mixLabels"}, "mark": {"type": "text", "fontSize": 10, "color": "#8ccc22", "align": "center", "baseline": "middle"},
     "encoding": {"text": {"field": "txt"}}},
    {"data": {"name": "boxes"}, "mark": {"type": "rect", "color": "#ffffff", "opacity": 0.85},
     "encoding": {"x2": {"field": "T2"}, "y2": {"field": "p2"}}},
    {"data": {"name": "ticks"}, "mark": {"type": "rule", "strokeWidth": 1.5},
     "encoding": {"x2": {"field": "T2"}, "color": {"field": "c", "type": "nominal", "scale": null}}},
    {"data": {"name": "barbs"}, "mark": {"type": "point", "filled": true, "size": 625, "strokeWidth": 1, "opacity": 1},
     "encoding": {
       "shape": {"field": "sh", "type": "nominal", "legend": null,
                 "scale": {"domain": ["b2","b3","b4","f","f1"],
                           "range": ["M0,0L0,-2M0,-2L0.8,-2.12M0,-1.76L0.8,-1.88",
                                     "M0,0L0,-2M0,-2L0.8,-2.12M0,-1.76L0.8,-1.88M0,-1.52L0.8,-1.64",
                                     "M0,0L0,-2M0,-2L0.8,-2.12M0,-1.76L0.8,-1.88M0,-1.52L0.8,-1.64M0,-1.28L0.8,-1.4",
                                     "M0,0L0,-2M0,-2L0.85,-2L0,-1.62Z",
                                     "M0,0L0,-2M0,-2L0.85,-2L0,-1.62ZM0,-1.45L0.8,-1.57"]}},
       "angle": {"field": "ang", "type": "quantitative", "scale": null},
       "fill": {"field": "col", "type": "nominal", "scale": null},
       "stroke": {"field": "col", "type": "nominal", "scale": null}
     }},
    {"data": {"name": "barbs"}, "mark": {"type": "square", "size": 12, "opacity": 1},
     "encoding": {"color": {"field": "col", "type": "nominal", "scale": null}}},
    {"data": {"name": "dwpt"}, "mark": {"type": "line", "clip": true, "strokeWidth": 3, "color": "#008000", "strokeJoin": "round"},
     "encoding": {"order": {"field": "p", "type": "quantitative"}}},
    {"data": {"name": "wb"}, "mark": {"type": "line", "clip": true, "strokeWidth": 1.2, "color": "#2a6ae0", "strokeJoin": "round"},
     "encoding": {"order": {"field": "p", "type": "quantitative"}}},
    {"data": {"name": "temp"}, "mark": {"type": "line", "clip": true, "strokeWidth": 3, "color": "#ff0000", "strokeJoin": "round"},
     "encoding": {"order": {"field": "p", "type": "quantitative"}}},
    {"data": {"name": "textLeft"}, "mark": {"type": "text", "align": "left", "baseline": "middle"},
     "encoding": {"text": {"field": "txt"}, "color": {"field": "col", "type": "nominal", "scale": null},
                  "size": {"field": "fs", "type": "quantitative", "scale": null}}},
    {"data": {"name": "textCenter"}, "mark": {"type": "text", "align": "center", "baseline": "middle"},
     "encoding": {"text": {"field": "txt"}, "color": {"field": "col", "type": "nominal", "scale": null},
                  "size": {"field": "fs", "type": "quantitative", "scale": null}}},
    {"data": {"name": "textRight"}, "mark": {"type": "text", "align": "right", "baseline": "middle"},
     "encoding": {"text": {"field": "txt"}, "color": {"field": "col", "type": "nominal", "scale": null},
                  "size": {"field": "fs", "type": "quantitative", "scale": null}}},
    {"data": {"name": "textRot"}, "mark": {"type": "text", "align": "center", "baseline": "middle", "angle": 270, "fontSize": 11},
     "encoding": {"text": {"field": "txt"}, "color": {"field": "col", "type": "nominal", "scale": null}}},
    {"data": {"name": "title"}, "mark": {"type": "text", "align": "left", "baseline": "middle", "fontSize": 12, "fontWeight": "bold", "color": "#000000"},
     "encoding": {"text": {"field": "txt"}}}
  ]
}
